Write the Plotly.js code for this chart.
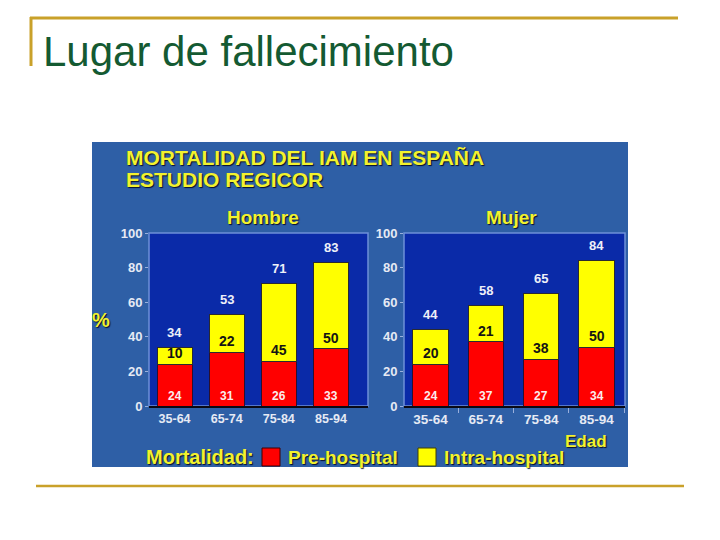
<!DOCTYPE html>
<html>
<head>
<meta charset="utf-8">
<script src="https://cdn.plot.ly/plotly-3.0.1.min.js"></script>
<style>
  html, body { margin: 0; padding: 0; background: #ffffff; }
  #chart { width: 720px; height: 540px; }
</style>
</head>
<body>
<div id="chart"></div>
<script>
// Mortalidad del IAM en España (estudio REGICOR), por sexo y grupo de edad
const ageGroups = ['35-64', '65-74', '75-84', '85-94'];
const hombrePre = [24, 31, 26, 33];
const hombreIntra = [10, 22, 45, 50];
const mujerPre = [24, 37, 27, 34];
const mujerIntra = [20, 21, 38, 50];
const yTicks = [0, 20, 40, 60, 80, 100];

const W = 720, H = 540;
const px = x => x / W;
const py = y => 1 - y / H;

const RED = '#ff0000';
const YELLOW = '#ffff00';
const HEAD = '#f2f22e';
const GOLD = '#c9a12a';
const FONT = 'Liberation Sans, Arial, sans-serif';
const SHADOW = '1px 1px 1px rgba(0,0,20,0.85)';

function stackTraces(pre, intra, xa, ya, width) {
  const common = { x: ageGroups, type: 'bar', xaxis: xa, yaxis: ya, width: width,
                   hoverinfo: 'skip', showlegend: false };
  return [
    Object.assign({}, common, { y: pre, name: 'Pre-hospital',
      marker: { color: RED, line: { color: '#2a1030', width: 1 } } }),
    Object.assign({}, common, { y: intra, name: 'Intra-hospital',
      marker: { color: YELLOW, line: { color: '#2a2a30', width: 1 } } })
  ];
}

const traces = [].concat(
  stackTraces(hombrePre, hombreIntra, 'x', 'y', 0.67),
  stackTraces(mujerPre, mujerIntra, 'x2', 'y2', 0.64)
);

// value labels for each stacked bar
function barLabels(pre, intra, xa, ya) {
  const out = [];
  ageGroups.forEach((g, i) => {
    out.push({ x: g, y: 0, xref: xa, yref: ya, yshift: 10, text: String(pre[i]),
      showarrow: false, yanchor: 'middle',
      font: { family: FONT, size: 12, color: '#fbecec', weight: 'bold' } });
    out.push({ x: g, y: pre[i], xref: xa, yref: ya, yshift: 11, text: String(intra[i]),
      showarrow: false, yanchor: 'middle',
      font: { family: FONT, size: 14, color: '#141414', weight: 'bold' } });
    out.push({ x: g, y: pre[i] + intra[i], xref: xa, yref: ya, yshift: 15,
      text: String(pre[i] + intra[i]),
      showarrow: false, yanchor: 'middle',
      font: { family: FONT, size: 13, color: '#eef0f8', weight: 'bold' } });
  });
  return out;
}

function head(text, x, y, size, anchor) {
  return { text: text, x: px(x), y: py(y), xref: 'paper', yref: 'paper',
    xanchor: anchor || 'left', yanchor: 'middle', showarrow: false,
    font: { family: FONT, size: size, color: HEAD, weight: 'bold', shadow: SHADOW } };
}

const annotations = [
  { text: 'Lugar de fallecimiento', x: px(41), y: py(51), xref: 'paper', yref: 'paper',
    xanchor: 'left', yanchor: 'middle', showarrow: false,
    font: { family: FONT, size: 42, color: '#145a32' } },
  head('MORTALIDAD DEL IAM EN ESPAÑA', 124, 157, 21),
  head('ESTUDIO REGICOR', 124, 180, 21),
  head('Hombre', 263, 218, 19, 'center'),
  head('Mujer', 511, 218, 19, 'center'),
  head('%', 101, 320, 20, 'center'),
  head('Edad', 586, 441, 17, 'center'),
  head('Mortalidad:', 144, 457, 20),
  head('Pre-hospital', 286, 457, 19),
  head('Intra-hospital', 442, 457, 19)
].concat(
  barLabels(hombrePre, hombreIntra, 'x', 'y'),
  barLabels(mujerPre, mujerIntra, 'x2', 'y2')
);

const shapes = [
  // slide rules
  { type: 'line', xref: 'paper', yref: 'paper', x0: px(30), x1: px(678), y0: py(18), y1: py(18),
    line: { color: GOLD, width: 3 } },
  { type: 'line', xref: 'paper', yref: 'paper', x0: px(31), x1: px(31), y0: py(17), y1: py(66),
    line: { color: GOLD, width: 3 } },
  { type: 'line', xref: 'paper', yref: 'paper', x0: px(36), x1: px(684), y0: py(486), y1: py(486),
    line: { color: GOLD, width: 2.5 } },
  // chart panel
  { type: 'rect', xref: 'paper', yref: 'paper', layer: 'below',
    x0: px(92), x1: px(628), y0: py(142), y1: py(467),
    fillcolor: '#2e5fa6', line: { width: 0 } },
  // plot areas
  { type: 'rect', xref: 'x domain', yref: 'y domain', layer: 'below', x0: 0, x1: 1, y0: 0, y1: 1,
    fillcolor: '#0a2aa8', line: { color: '#6d90d8', width: 1.5 } },
  { type: 'rect', xref: 'x2 domain', yref: 'y2 domain', layer: 'below', x0: 0, x1: 1, y0: 0, y1: 1,
    fillcolor: '#0a2aa8', line: { color: '#6d90d8', width: 1.5 } },
  // legend swatches
  { type: 'rect', xref: 'paper', yref: 'paper', x0: px(262), x1: px(280), y0: py(448), y1: py(466),
    fillcolor: RED, line: { color: '#400000', width: 1 } },
  { type: 'rect', xref: 'paper', yref: 'paper', x0: px(418), x1: px(436), y0: py(448), y1: py(466),
    fillcolor: YELLOW, line: { color: '#404000', width: 1 } }
];

const yDomain = [py(406), py(233)];
const yAxisBase = { range: [0, 100], tickvals: yTicks, ticks: 'outside', ticklen: 3,
  tickcolor: '#9ab0dc', showgrid: false, zeroline: false, showline: false, fixedrange: true,
  tickfont: { family: FONT, size: 13, color: '#e6eaf4', weight: 'bold' } };
const xAxisBase = { type: 'category', showgrid: false, zeroline: false, showline: true,
  linecolor: '#0a0a14', linewidth: 2, fixedrange: true,
  tickfont: { family: FONT, size: 12.5, color: '#e6eaf4', weight: 'bold' } };

const layout = {
  width: W, height: H,
  margin: { l: 0, r: 0, t: 0, b: 0, pad: 0 },
  paper_bgcolor: '#ffffff',
  plot_bgcolor: 'rgba(0,0,0,0)',
  barmode: 'stack',
  showlegend: false,
  xaxis: Object.assign({}, xAxisBase, { domain: [px(149), px(368)], anchor: 'y',
    range: [-0.49, 3.71], ticks: '' }),
  yaxis: Object.assign({}, yAxisBase, { domain: yDomain, anchor: 'x' }),
  xaxis2: Object.assign({}, xAxisBase, { domain: [px(404), px(625)], anchor: 'y2',
    range: [-0.48, 3.515], ticks: 'outside', tickson: 'boundaries', ticklen: 5,
    tickcolor: '#9ab0dc',
    tickfont: { family: FONT, size: 13.5, color: '#e6eaf4', weight: 'bold' } }),
  yaxis2: Object.assign({}, yAxisBase, { domain: yDomain, anchor: 'x2' }),
  shapes: shapes,
  annotations: annotations
};

Plotly.newPlot('chart', traces, layout, { staticPlot: true, displayModeBar: false });
</script>
</body>
</html>
